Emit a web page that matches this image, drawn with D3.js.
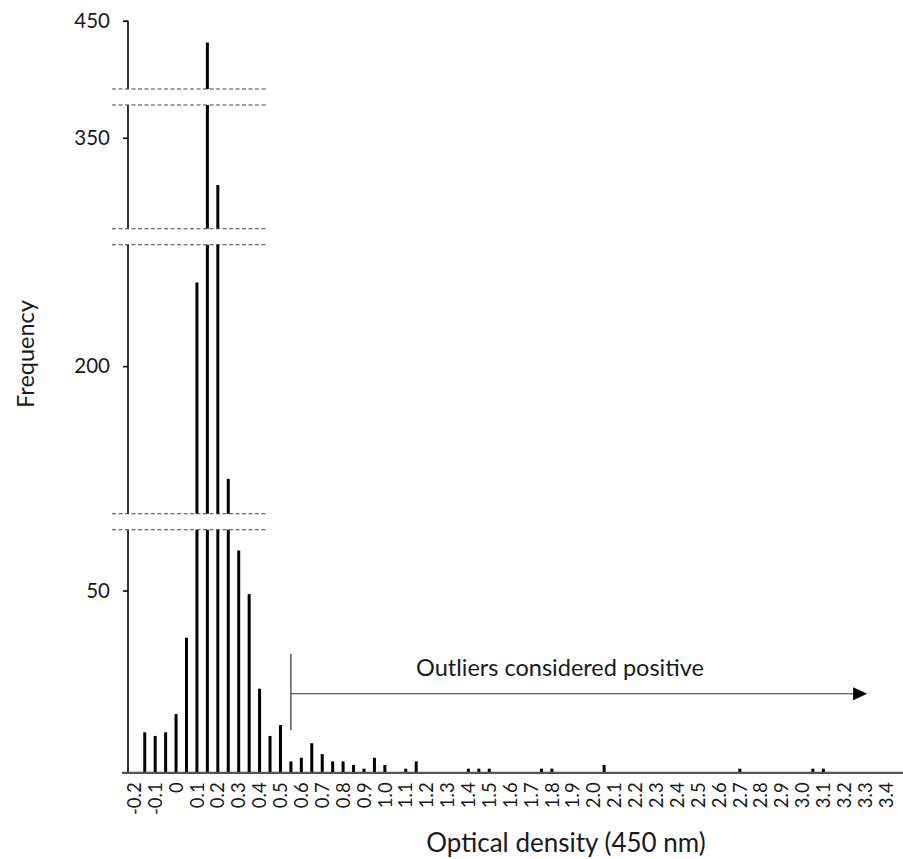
<!DOCTYPE html>
<html>
<head>
<meta charset="utf-8">
<script src="https://cdn.jsdelivr.net/npm/d3@7"></script>
<style>
  html, body { margin: 0; padding: 0; background: #fff; }
  svg { display: block; }
  text { font-family: Lato, "Open Sans", sans-serif; fill: #1a1a1a; }
</style>
</head>
<body>
<svg id="chart" width="903" height="859"></svg>
<script>
// ---------------- data ----------------
const binCenters = [-0.15, -0.1, -0.05, 0, 0.05, 0.1, 0.15, 0.2, 0.25, 0.3, 0.35, 0.4, 0.45, 0.5,
  0.55, 0.6, 0.65, 0.7, 0.75, 0.8, 0.85, 0.9, 0.95, 1.0, 1.1, 1.15, 1.4, 1.45, 1.5,
  1.75, 1.8, 2.05, 2.7, 3.05, 3.1];
const frequencies = [11, 10, 11, 16, 37, 223, 444, 337, 169, 61, 49, 23, 10, 13,
  3, 4, 8, 5, 3, 3, 2, 1, 4, 2, 1, 3, 1, 1, 1,
  1, 1, 2, 1, 1, 1];
const xTickLabels = ["-0.2","-0.1","0","0.1","0.2","0.3","0.4","0.5","0.6","0.7","0.8","0.9",
  "1.0","1.1","1.2","1.3","1.4","1.5","1.6","1.7","1.8","1.9","2.0","2.1","2.2","2.3","2.4",
  "2.5","2.6","2.7","2.8","2.9","3.0","3.1","3.2","3.3","3.4"];
const yTickValues = [50, 200, 350, 450];
// visible pieces of the broken y axis (value ranges)
const yAxisSegments = [[0, 66.7], [159.4, 233.4], [325, 359], [431.2, 450]];
const outlierCutoff = 0.55;
const outlierArrowEnd = 3.3;
const annotationText = "Outliers considered positive";
const xTitle = "Optical density (450 nm)";
const yTitle = "Frequency";

// ---------------- layout ----------------
const svg = d3.select("#chart");
const axisX = 128, plotTop = 20.7, plotBottom = 772.3, gap = 16;

const x = d3.scaleLinear().domain([-0.2, 3.4]).range([134.3, 886]);

// piecewise y scale with gaps between segments
const totalSpan = d3.sum(yAxisSegments, s => s[1] - s[0]);
const k = (plotBottom - plotTop - gap * (yAxisSegments.length - 1)) / totalSpan;
const yDomain = [], yRange = [];
let cur = plotBottom;
yAxisSegments.forEach((s, i) => {
  yDomain.push(s[0]); yRange.push(cur);
  cur -= (s[1] - s[0]) * k;
  yDomain.push(s[1]); yRange.push(cur);
  if (i < yAxisSegments.length - 1) cur -= gap;
});
const y = d3.scaleLinear().domain(yDomain).range(yRange);

// y axis line
svg.append("line")
  .attr("x1", axisX).attr("x2", axisX)
  .attr("y1", y(0)).attr("y2", y(450))
  .attr("stroke", "#000").attr("stroke-width", 1.6);

// y axis ticks and labels
const yAxis = d3.axisLeft(y).tickValues(yTickValues).tickSize(5).tickSizeOuter(0).tickPadding(13);
const gy = svg.append("g").attr("transform", `translate(${axisX},0)`).call(yAxis);
gy.select(".domain").remove();
gy.selectAll(".tick line").attr("stroke", "#000").attr("stroke-width", 1.6);
gy.selectAll(".tick text").attr("font-size", 20.5).attr("font-family", "Lato, sans-serif").attr("fill", "#1a1a1a");

// bars
svg.append("g").selectAll("rect")
  .data(binCenters.map((b, i) => ({ b, f: frequencies[i] })))
  .join("rect")
  .attr("x", d => x(d.b) - 1.5)
  .attr("width", 3)
  .attr("y", d => y(d.f))
  .attr("height", d => y(0) - y(d.f))
  .attr("fill", "#000");

// breaks: white masks + dashed lines
for (let i = 0; i < yAxisSegments.length - 1; i++) {
  const lowTop = y(yAxisSegments[i][1]);
  const highBottom = y(yAxisSegments[i + 1][0]);
  svg.append("rect")
    .attr("x", 110).attr("width", 160)
    .attr("y", highBottom).attr("height", lowTop - highBottom)
    .attr("fill", "#fff");
  [highBottom, lowTop].forEach(yy => {
    svg.append("line")
      .attr("x1", 112).attr("x2", 268)
      .attr("y1", yy).attr("y2", yy)
      .attr("stroke", "#444").attr("stroke-width", 1.1)
      .attr("stroke-dasharray", "4,2.5");
  });
}

// x axis line
svg.append("line")
  .attr("x1", 122).attr("x2", 903)
  .attr("y1", y(0) + 0.5).attr("y2", y(0) + 0.5)
  .attr("stroke", "#555").attr("stroke-width", 2.2);

// x tick labels (rotated)
svg.append("g").selectAll("text")
  .data(xTickLabels)
  .join("text")
  .attr("transform", d => `translate(${x(parseFloat(d))},${y(0) + 10}) rotate(-90)`)
  .attr("text-anchor", "end")
  .attr("dy", "0.36em")
  .attr("font-size", 18.5)
  .text(d => d);

// axis titles
svg.append("text")
  .attr("x", 566).attr("y", 852)
  .attr("text-anchor", "middle")
  .attr("font-size", 26)
  .text(xTitle);
svg.append("text")
  .attr("transform", `translate(34,354) rotate(-90)`)
  .attr("text-anchor", "middle")
  .attr("font-size", 23.5)
  .text(yTitle);

// outlier annotation
const annY = y(21.6);
svg.append("line")
  .attr("x1", x(outlierCutoff)).attr("x2", x(outlierCutoff))
  .attr("y1", y(32.5)).attr("y2", y(11.6))
  .attr("stroke", "#333").attr("stroke-width", 1.2);
svg.append("line")
  .attr("x1", x(outlierCutoff)).attr("x2", x(outlierArrowEnd) - 10)
  .attr("y1", annY).attr("y2", annY)
  .attr("stroke", "#333").attr("stroke-width", 1.2);
const tipX = x(outlierArrowEnd) + 2;
svg.append("path")
  .attr("d", `M${tipX},${annY} L${tipX - 14},${annY - 6.5} L${tipX - 14},${annY + 6.5} Z`)
  .attr("fill", "#000");
svg.append("text")
  .attr("x", 560).attr("y", 676)
  .attr("text-anchor", "middle")
  .attr("font-size", 23.5)
  .text(annotationText);
</script>
</body>
</html>
